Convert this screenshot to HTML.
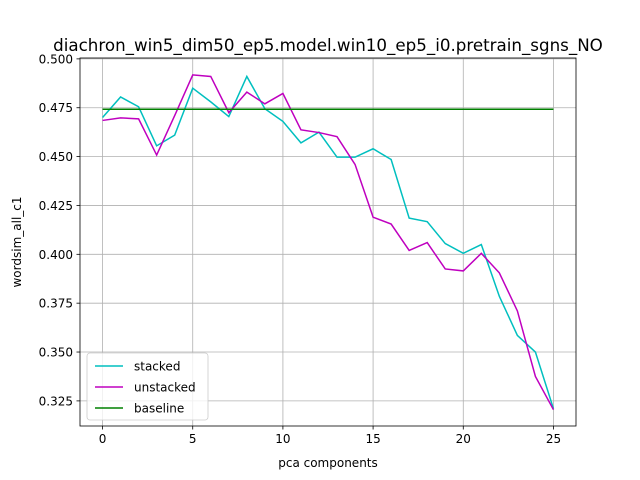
<!DOCTYPE html>
<html><head><meta charset="utf-8"><style>
body{margin:0;background:#fff;}
svg{display:block;font-family:"DejaVu Sans","Liberation Sans",sans-serif;}
</style></head><body>
<svg id="chart" width="640" height="480"></svg>
<script>
const xValues=[0,1,2,3,4,5,6,7,8,9,10,11,12,13,14,15,16,17,18,19,20,21,22,23,24,25];
const stacked=[0.470,0.4805,0.4755,0.4555,0.461,0.485,0.478,0.4705,0.491,0.4745,0.468,0.457,0.4625,0.4497,0.4497,0.454,0.4485,0.4185,0.4167,0.4055,0.4005,0.405,0.3785,0.3585,0.350,0.321];
const unstacked=[0.4685,0.4698,0.4693,0.4508,0.471,0.4918,0.491,0.4725,0.483,0.477,0.4823,0.4637,0.4623,0.4602,0.446,0.419,0.4155,0.402,0.406,0.3925,0.3915,0.4005,0.3905,0.371,0.3375,0.3205];
const baseline=[0.4742,0.4742];
const baselineX=[0,25];
const xTicks=[0,5,10,15,20,25];
const yTicks=[0.325,0.350,0.375,0.400,0.425,0.450,0.475,0.500];
const L=80,R=576,T=58,B=426;
const xMin=-1.25,xMax=26.25,yMin=0.31215,yMax=0.50045;
const sx=v=>L+(v-xMin)/(xMax-xMin)*(R-L);
const sy=v=>B-(v-yMin)/(yMax-yMin)*(B-T);
const svg=document.getElementById('chart');
const NS='http://www.w3.org/2000/svg';
function mk(tag,attrs,parent){const e=document.createElementNS(NS,tag);for(const k in attrs)e.setAttribute(k,attrs[k]);(parent||svg).appendChild(e);return e;}
const grid=mk('g',{});


xTicks.forEach(t=>{
  const x=sx(t);
  const g=mk('line',{x1:x,x2:x,y1:T,y2:B,stroke:'#b0b0b0','stroke-width':0.8},grid);
  
  
  mk('line',{x1:x,x2:x,y1:B,y2:B+3.5,stroke:'#000','stroke-width':0.8});
  const tx=mk('text',{x:x,y:B+17,'font-size':12,'text-anchor':'middle'});
  tx.textContent=t;
  
  
});
yTicks.forEach(t=>{
  const y=sy(t);
  const g=mk('line',{x1:L,x2:R,y1:y,y2:y,stroke:'#b0b0b0','stroke-width':0.8},grid);
  
  
  mk('line',{x1:L-3.5,x2:L,y1:y,y2:y,stroke:'#000','stroke-width':0.8});
  const tx=mk('text',{x:L-7,y:y+4.5,'font-size':12,'text-anchor':'end'});
  tx.textContent=t.toFixed(3);
  
  
});
function line(xs,ys,color,name){
  const p=mk('polyline',{points:xs.map((x,i)=>sx(x)+','+sy(ys[i])).join(' '),fill:'none',stroke:color,'stroke-width':1.5});
  
  
}
line(xValues,stacked,'#00bfbf','stacked-line');
line(xValues,unstacked,'#bf00bf','unstacked-line');
line(baselineX,baseline,'#008000','baseline-line');
const frame=mk('rect',{x:L,y:T,width:R-L,height:B-T,fill:'none',stroke:'#000','stroke-width':0.8});


const title=mk('text',{x:(L+R)/2,y:51,'font-size':16.7,'text-anchor':'middle'});
title.textContent='diachron_win5_dim50_ep5.model.win10_ep5_i0.pretrain_sgns_NO';


const xl=mk('text',{x:(L+R)/2,y:467,'font-size':12,'text-anchor':'middle'});
xl.textContent='pca components';


const yl=mk('text',{x:0,y:0,'font-size':12,'text-anchor':'middle',transform:'translate(21,'+((T+B)/2)+') rotate(-90)'});
yl.textContent='wordsim_all_c1';


const leg=mk('g',{});


mk('rect',{x:87,y:353,width:121,height:67,rx:3,fill:'#fff','fill-opacity':0.8,stroke:'#ccc','stroke-width':0.8},leg);
[['stacked','#00bfbf'],['unstacked','#bf00bf'],['baseline','#008000']].forEach((e,i)=>{
  const y=366+i*21;
  const ln=mk('line',{x1:95,x2:123,y1:y,y2:y,stroke:e[1],'stroke-width':1.5},leg);
  
  
  const t=mk('text',{x:134,y:y+4.5,'font-size':12},leg);
  t.textContent=e[0];
  
  
});
</script>
</body></html>
